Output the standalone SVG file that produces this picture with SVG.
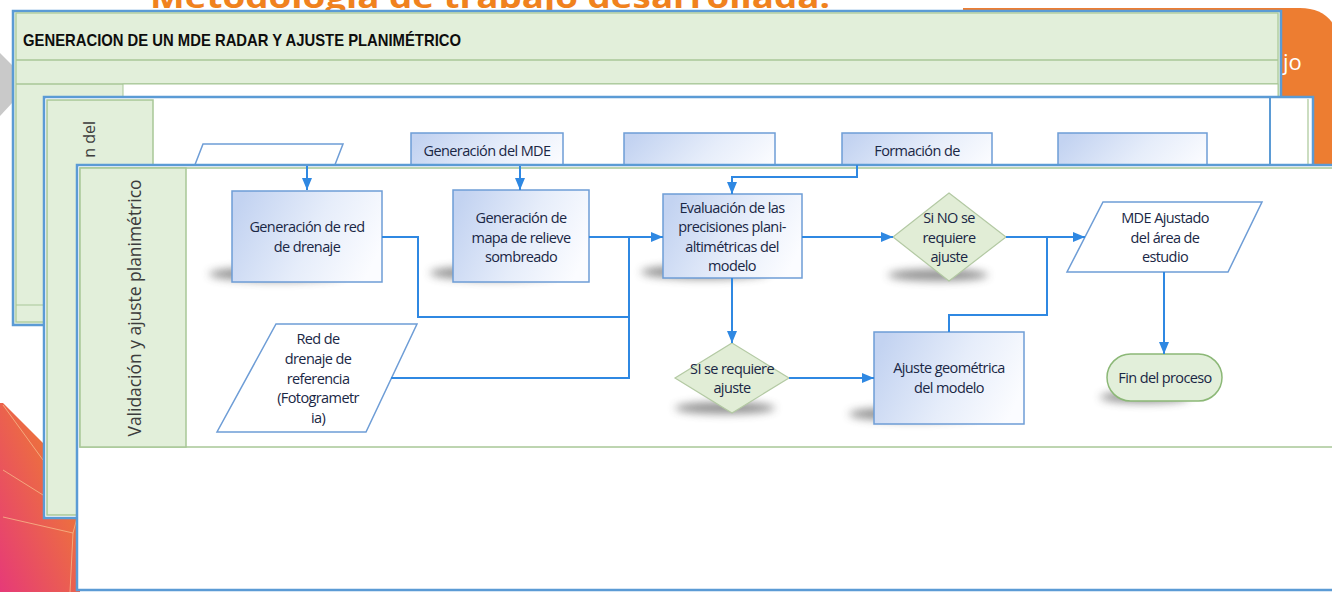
<svg xmlns="http://www.w3.org/2000/svg" width="1332" height="592" viewBox="0 0 1332 592">
<defs>
<style>
.conn{fill:none;stroke:#2f88e2;stroke-width:2}
.box{fill:url(#gBox);stroke:#6e9dd6;stroke-width:1.5}
.para{fill:#fff;stroke:#6e9dd6;stroke-width:1.5}
.dia{fill:#e1edd6;stroke:#b3c9a3;stroke-width:1.2}
.term{fill:#e2efda;stroke:#8cb877;stroke-width:1.5}
.t{font-family:"Open Sans","Liberation Sans",sans-serif;font-size:14.5px;letter-spacing:-0.6px;fill:#1a2745;text-anchor:middle}
.sh{fill:#4a4a4a;opacity:0.6;filter:url(#blur)}
.lane{fill:#e2efda;stroke:#a8c797;stroke-width:1.5}
.lay{fill:#fff;stroke:#5b9bd5;stroke-width:2.5}
.vt{font-family:"Open Sans","Liberation Sans",sans-serif;fill:#3c3c3c}
.facet{stroke:#f6b98a;stroke-width:1;opacity:0.8;fill:none}
</style>
<linearGradient id="gBox" x1="0" y1="0.3" x2="1" y2="0.6">
<stop offset="0" stop-color="#c3d3f1"/>
<stop offset="0.55" stop-color="#e6edfa"/>
<stop offset="1" stop-color="#fbfcff"/>
</linearGradient>
<linearGradient id="gOr" x1="1" y1="0" x2="0" y2="1">
<stop offset="0" stop-color="#f08a22"/>
<stop offset="1" stop-color="#e63a78"/>
</linearGradient>
<filter id="blur" x="-50%" y="-200%" width="200%" height="500%">
<feGaussianBlur stdDeviation="4"/>
</filter>
<marker id="ah" viewBox="0 0 12 10" refX="12" refY="5" markerWidth="12" markerHeight="10" markerUnits="userSpaceOnUse" orient="auto">
<path d="M0,0 L12,5 L0,10 z" fill="#2f88e2"/>
</marker>
</defs>
<rect x="0" y="0" width="1332" height="592" fill="#fff"/>

<!-- slide background decoration -->
<g id="slide-bg">
<text x="150" y="8" font-family="Open Sans, Liberation Sans, sans-serif" font-weight="bold" font-size="30" fill="#f0821e" textLength="680" lengthAdjust="spacingAndGlyphs">Metodología de trabajo desarrollada:</text>
<path d="M963,8 H1300 Q1332,8 1340,40 V175 H963 Z" fill="#ed7d31"/>
<text x="1283" y="70" font-family="Open Sans, Liberation Sans, sans-serif" font-size="22" fill="#fff">jo</text>
<polygon points="0,53 13,66 13,102 0,116" fill="#c9c9c9"/>
<polygon points="3,403 80,480 80,592 0,592 0,403" fill="url(#gOr)"/>
<path class="facet" d="M3,405 L43,460 M3,470 L43,495 M3,517 L73,533 L77,518 M73,533 L70,592"/>
</g>

<!-- layer 1 -->
<g id="layer1">
<rect x="13" y="11" width="1268" height="314" fill="#e2efda" stroke="#5b9bd5" stroke-width="2.5"/>
<rect x="16" y="13" width="1262" height="309" fill="none" stroke="#a8c797" stroke-width="1.2"/>
<line x1="16" y1="60" x2="1278" y2="60" stroke="#a8c797" stroke-width="1.5"/>
<line x1="16" y1="84" x2="1278" y2="84" stroke="#a8c797" stroke-width="1.5"/>
<rect x="123" y="84" width="1155" height="221" fill="#fff" stroke="#a8c797" stroke-width="1"/>
<line x1="16" y1="305" x2="1278" y2="305" stroke="#a8c797" stroke-width="1.2"/>
<text x="23" y="46" font-family="Liberation Sans, Arial, sans-serif" font-weight="bold" font-size="17" fill="#0d0d0d" textLength="438" lengthAdjust="spacingAndGlyphs">GENERACION DE UN MDE RADAR Y AJUSTE PLANIMÉTRICO</text>
</g>

<!-- layer 2 -->
<g id="layer2">
<rect class="lay" x="44" y="97" width="1269" height="421"/>
<rect class="lane" x="47" y="100" width="106" height="415"/>
<line x1="1270" y1="97" x2="1270" y2="170" stroke="#5b9bd5" stroke-width="2"/>
<line x1="1308" y1="99" x2="1308" y2="170" stroke="#a8c797" stroke-width="1.2"/>
<text class="vt" font-size="16" text-anchor="end" transform="translate(95,121) rotate(-90)">n del</text>
</g>
<g id="n-input-top">
<polygon class="para" points="203,144 343,144 331,175 191,175"/>
</g>
<g id="n-gen-mde">
<rect class="box" x="411" y="133" width="152" height="45"/>
<text class="t" x="487" y="156">Generación del MDE</text>
</g>
<g id="n-box-b">
<rect class="box" x="624" y="133" width="151" height="45"/>
</g>
<g id="n-formacion">
<rect class="box" x="842" y="133" width="150" height="45"/>
<text class="t" x="917" y="156">Formación de</text>
</g>
<g id="n-box-d">
<rect class="box" x="1058" y="133" width="149" height="45"/>
</g>

<!-- layer 3 -->
<g id="layer3">
<rect class="lay" x="77" y="165" width="1275" height="425"/>
<rect x="80" y="168" width="1270" height="279" fill="none" stroke="#a8c797" stroke-width="1.5"/>
<rect class="lane" x="80" y="168" width="106" height="279"/>
<text class="vt" font-size="19" text-anchor="middle" textLength="257" lengthAdjust="spacingAndGlyphs" transform="translate(141,308) rotate(-90)">Validación y ajuste planimétrico</text>
</g>

<g id="n-red-drenaje">
<ellipse class="sh" cx="277" cy="274" rx="68" ry="7"/>
<rect class="box" x="232" y="191" width="150" height="91"/>
<text class="t" x="307" y="232">Generación de red</text>
<text class="t" x="307" y="252">de drenaje</text>
</g>
<g id="n-relieve">
<ellipse class="sh" cx="494" cy="273" rx="64" ry="7"/>
<rect class="box" x="453" y="190" width="136" height="92"/>
<text class="t" x="521" y="223">Generación de</text>
<text class="t" x="521" y="243">mapa de relieve</text>
<text class="t" x="521" y="262">sombreado</text>
</g>
<g id="n-evaluacion">
<ellipse class="sh" cx="705" cy="272" rx="64" ry="7"/>
<rect class="box" x="663" y="194" width="139" height="84"/>
<text class="t" x="732" y="213">Evaluación de las</text>
<text class="t" x="732" y="232">precisiones plani-</text>
<text class="t" x="732" y="252">altimétricas del</text>
<text class="t" x="732" y="271">modelo</text>
</g>
<g id="n-si-no">
<ellipse class="sh" cx="938" cy="275" rx="50" ry="6"/>
<polygon class="dia" points="949,193 1006,237 949,281 893,237"/>
<text class="t" x="949" y="223">Si NO se</text>
<text class="t" x="949" y="243">requiere</text>
<text class="t" x="949" y="262">ajuste</text>
</g>
<g id="n-mde-ajustado">
<polygon class="para" points="1103,202 1262,202 1228,272 1067,272"/>
<text class="t" x="1165" y="223">MDE Ajustado</text>
<text class="t" x="1165" y="243">del área de</text>
<text class="t" x="1165" y="262">estudio</text>
</g>
<g id="n-red-referencia">
<polygon class="para" points="276,324 417,324 366,432 217,432"/>
<text class="t" x="318" y="344">Red de</text>
<text class="t" x="318" y="364">drenaje de</text>
<text class="t" x="318" y="384">referencia</text>
<text class="t" x="318" y="403">(Fotogrametr</text>
<text class="t" x="318" y="423">ia)</text>
</g>
<g id="n-si-requiere">
<ellipse class="sh" cx="725" cy="408" rx="50" ry="6"/>
<polygon class="dia" points="732,343 789,378 732,413 675,378"/>
<text class="t" x="732" y="374">SI se requiere</text>
<text class="t" x="732" y="393">ajuste</text>
</g>
<g id="n-ajuste">
<ellipse class="sh" cx="915" cy="414" rx="66" ry="7"/>
<rect class="box" x="874" y="332" width="150" height="92"/>
<text class="t" x="949" y="373">Ajuste geométrica</text>
<text class="t" x="949" y="393">del modelo</text>
</g>
<g id="n-fin">
<ellipse class="sh" cx="1145" cy="397" rx="45" ry="6"/>
<rect class="term" x="1107" y="354" width="115" height="47" rx="23.5"/>
<text class="t" x="1165" y="383">Fin del proceso</text>
</g>

<g id="connectors">
<path class="conn" d="M307,166 V190" marker-end="url(#ah)"/>
<path class="conn" d="M520,166 V190" marker-end="url(#ah)"/>
<path class="conn" d="M857,165 V177 H732 V194" marker-end="url(#ah)"/>
<path class="conn" d="M382,237 H418 V317 H629"/>
<path class="conn" d="M391,378 H629 V237"/>
<path class="conn" d="M589,237 H663" marker-end="url(#ah)"/>
<path class="conn" d="M732,278 V343" marker-end="url(#ah)"/>
<path class="conn" d="M802,237 H893" marker-end="url(#ah)"/>
<path class="conn" d="M789,378 H874" marker-end="url(#ah)"/>
<path class="conn" d="M1006,237 H1085" marker-end="url(#ah)"/>
<path class="conn" d="M949,332 V315 H1047 V237"/>
<path class="conn" d="M1164,272 V354" marker-end="url(#ah)"/>
</g>
</svg>
